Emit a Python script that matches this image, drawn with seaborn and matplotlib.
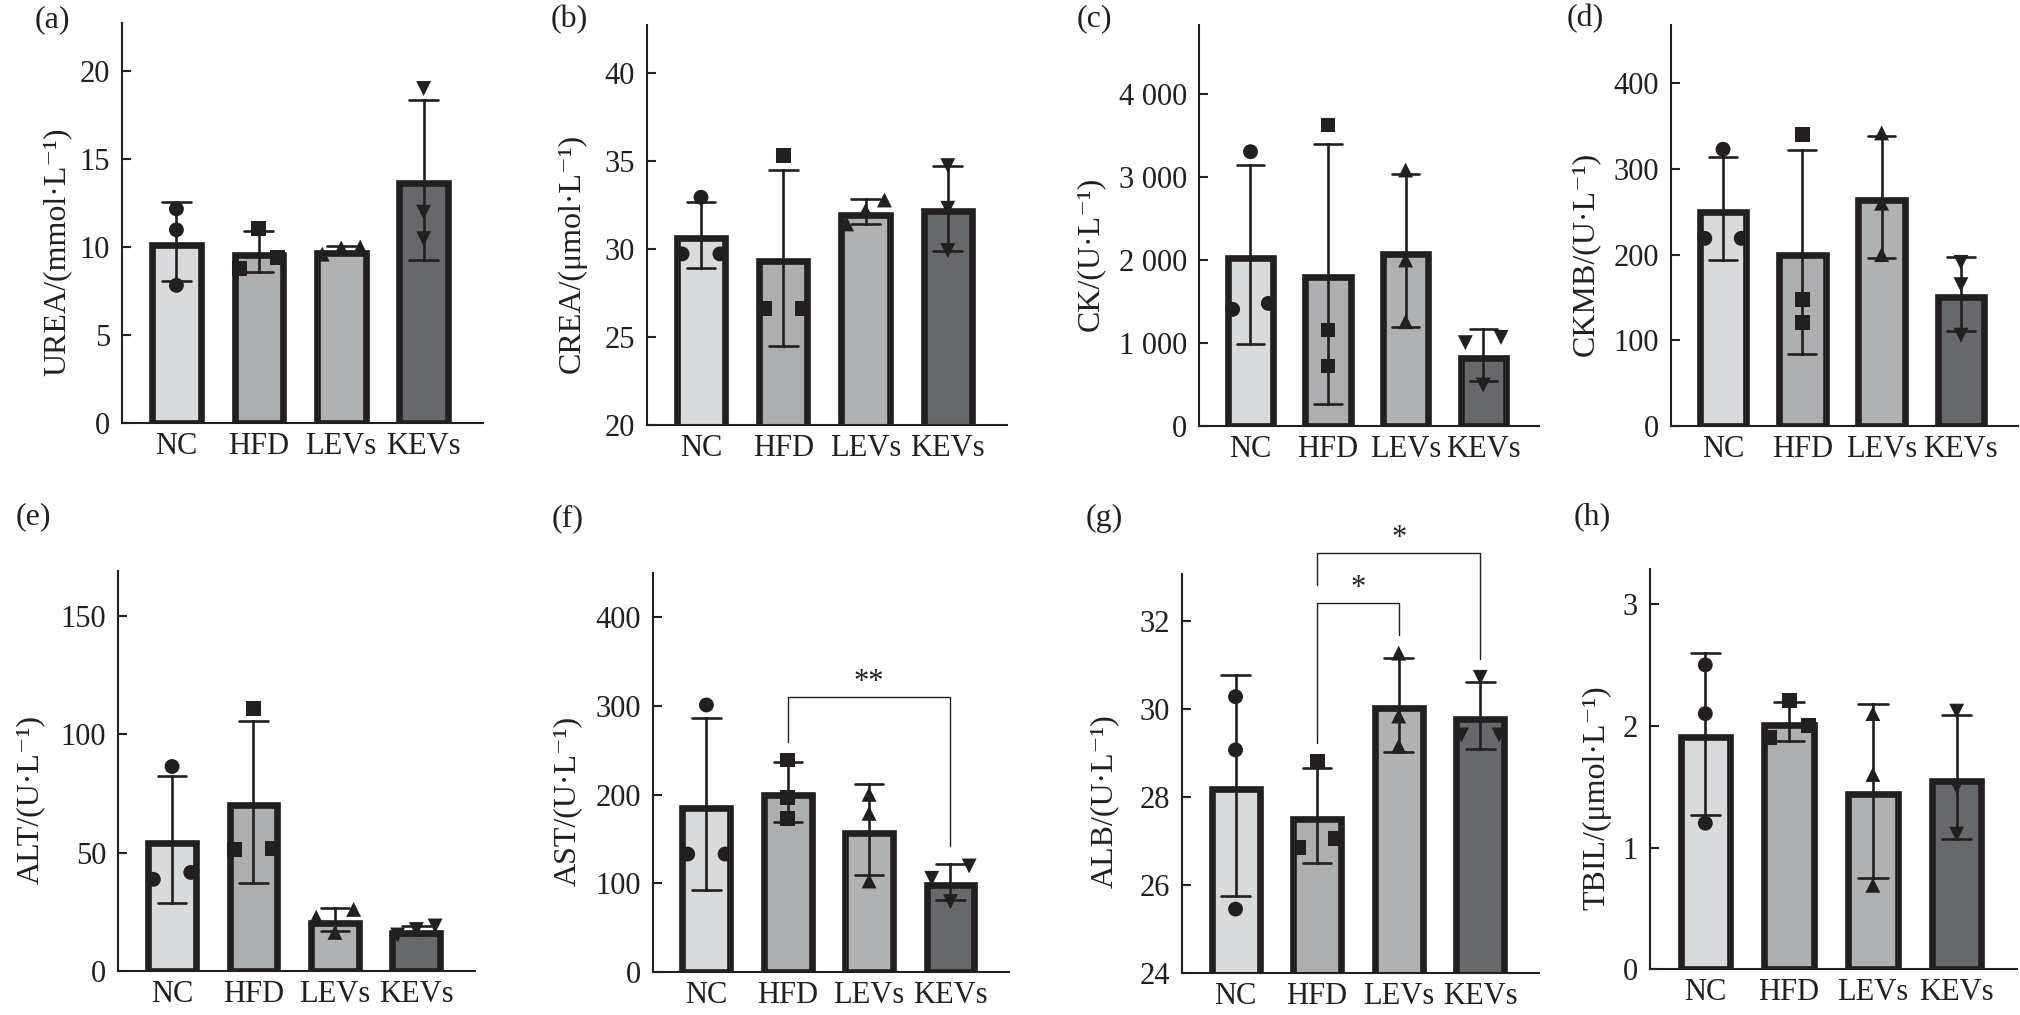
import numpy as np
import pandas as pd
import matplotlib
matplotlib.use("Agg")
import matplotlib.pyplot as plt
from matplotlib.ticker import FuncFormatter
import seaborn as sns

sns.set_theme(style="ticks")
plt.rcParams['font.family'] = ['Liberation Serif', 'DejaVu Serif']
plt.rcParams['axes.linewidth'] = 1.5

INK = "#231f20"
W, H = 2020, 1015
EDGE_LW = 4.8
XLIM = (-0.66, 3.72)

groups = ["NC", "HFD", "LEVs", "KEVs"]
fills = {"NC": "#d9dadc", "HFD": "#adaeb0", "LEVs": "#b0b1b3", "KEVs": "#67686b"}
markers = {"NC": "o", "HFD": "s", "LEVs": "^", "KEVs": "v"}

# individual values (3 animals per group)
urea = {"NC": [12.17, 10.98, 7.83], "HFD": [11.04, 9.43, 8.77],
        "LEVs": [10.0, 9.95, 9.6], "KEVs": [19.0, 11.98, 10.47]}
crea = {"NC": [32.92, 29.71, 29.71], "HFD": [35.27, 26.62, 26.62],
        "LEVs": [32.77, 32.17, 31.41], "KEVs": [34.72, 32.3, 29.9]}
ck = {"NC": [3308, 1479, 1407], "HFD": [3630, 1158, 724],
      "LEVs": [3087, 2002, 1258], "KEVs": [1069, 1005, 494]}
ckmb = {"NC": [323, 219, 219], "HFD": [340, 148, 121],
        "LEVs": [342, 260, 200], "KEVs": [191, 165, 106]}
alt = {"NC": [86.3, 41.6, 38.7], "HFD": [110.9, 51.8, 51.1],
       "LEVs": [26.0, 22.7, 16.3], "KEVs": [19.0, 17.5, 15.2]}
ast = {"NC": [300.7, 133, 133], "HFD": [238.8, 196.4, 173.2],
       "LEVs": [200.2, 178.8, 102.7], "KEVs": [119.6, 105.7, 79.5]}
alb = {"NC": [30.29, 29.08, 25.46], "HFD": [28.82, 27.07, 26.87],
       "LEVs": [31.28, 29.85, 29.17], "KEVs": [30.73, 29.42, 29.42]}
tbil = {"NC": [2.50, 2.10, 1.20], "HFD": [2.21, 2.00, 1.90],
        "LEVs": [2.10, 1.60, 0.69], "KEVs": [2.12, 1.50, 1.11]}

# significance brackets: (group1, group2, label, bracket level)
sig_ast = [("HFD", "KEVs", "**", 310)]
sig_alb = [("HFD", "LEVs", "*", 32.42), ("HFD", "KEVs", "*", 33.55)]

# letter, data, y label, ylim, yticks, axes box in px (x0, x1, ytop, ybot), label x, letter pos
panels = [
    ("(a)", urea, "UREA/(mmol·L⁻¹)", (0, 22.7), [0, 5, 10, 15, 20],
     (122, 483, 23.3, 423.3), -0.139, (35, 27), []),
    ("(b)", crea, "CREA/(μmol·L⁻¹)", (20, 42.7), [20, 25, 30, 35, 40],
     (646.7, 1007, 25, 425), -0.166, (551, 27), []),
    ("(c)", ck, "CK/(U·L⁻¹)", (0, 4836), [0, 1000, 2000, 3000, 4000],
     (1199.3, 1539, 25, 426), -0.277, (1077, 26), []),
    ("(d)", ckmb, "CKMB/(U·L⁻¹)", (0, 468), [0, 100, 200, 300, 400],
     (1670.7, 2018, 25, 426), -0.204, (1567, 26), []),
    ("(e)", alt, "ALT/(U·L⁻¹)", (0, 168.8), [0, 50, 100, 150],
     (118.3, 475, 571, 971), -0.205, (16, 524), []),
    ("(f)", ast, "AST/(U·L⁻¹)", (0, 449.5), [0, 100, 200, 300, 400],
     (652.7, 1009, 572.7, 972.3), -0.198, (552, 526), sig_ast),
    ("(g)", alb, "ALB/(U·L⁻¹)", (24, 33.08), [24, 26, 28, 30, 32],
     (1181.7, 1539, 574, 973.3), -0.176, (1086, 526), sig_alb),
    ("(h)", tbil, "TBIL/(μmol·L⁻¹)", (0, 3.285), [0, 1, 2, 3],
     (1650, 2017, 569.3, 969.3), -0.104, (1574, 524), []),
]


def spread(vals, yrange, thr=0.035, d=0.23):
    """GraphPad-like horizontal spread of points that nearly coincide."""
    vals = np.asarray(vals, dtype=float)
    order = np.argsort(vals)[::-1]
    clusters = [[order[0]]]
    for idx in order[1:]:
        if vals[clusters[-1][-1]] - vals[idx] <= thr * yrange:
            clusters[-1].append(idx)
        else:
            clusters.append([idx])
    offs = np.zeros(len(vals))
    for c in clusters:
        if len(c) > 1:
            c = sorted(c, key=lambda i: vals[i])
            offs[c] = np.linspace(-d, d, len(c))
    return offs


fig = plt.figure(figsize=(W / 100, H / 100), dpi=100)

for letter, data, ylabel, ylim, yticks, box, lab_x, lpos, sigs in panels:
    x0, x1, yt, yb = box
    ax = fig.add_axes([x0 / W, (H - yb) / H, (x1 - x0) / W, (yb - yt) / H])
    yrange = ylim[1] - ylim[0]

    rows = []
    for i, g in enumerate(groups):
        offs = spread(data[g], yrange)
        for v, o in zip(data[g], offs):
            rows.append((g, v, i + o))
    df = pd.DataFrame(rows, columns=["group", "value", "xpos"])

    sns.barplot(data=df, x="group", y="value", hue="group", order=groups,
                hue_order=groups, palette=fills, saturation=1, legend=False,
                errorbar="sd", capsize=0.35, width=0.67, linewidth=EDGE_LW,
                edgecolor=INK, err_kws={"color": INK, "linewidth": 1.9}, ax=ax)

    # draw the thick bar border inside the bar outline (as in GraphPad)
    half_px = EDGE_LW * 100 / 72 / 2
    dx = half_px * (XLIM[1] - XLIM[0]) / (x1 - x0)
    dy = half_px * yrange / (yb - yt)
    for p in ax.patches:
        p.set_x(p.get_x() + dx)
        p.set_width(p.get_width() - 2 * dx)
        p.set_height(p.get_height() - dy)

    sns.scatterplot(data=df, x="xpos", y="value", style="group",
                    style_order=groups, markers=markers, color=INK, s=115,
                    linewidth=0, legend=False, zorder=3, ax=ax)

    ax.set_xlim(*XLIM)
    ax.set_ylim(*ylim)
    ax.set_yticks(yticks)
    if ylim[1] > 1000:
        ax.yaxis.set_major_formatter(FuncFormatter(lambda v, p: f"{int(v):,}".replace(",", " ")))
    ax.set_xticks(range(len(groups)))
    ax.set_xticklabels(groups)
    ax.set_xlabel("")
    ax.set_ylabel(ylabel, fontsize=23, color=INK)
    ax.yaxis.set_label_coords(lab_x, 0.43)
    sns.despine(ax=ax)
    for s in ["left", "bottom"]:
        ax.spines[s].set_color(INK)
    ax.tick_params(axis="y", direction="in", length=6.7, width=1.5, pad=8.6,
                   labelsize=22, colors=INK)
    ax.tick_params(axis="x", length=0, pad=6.5, labelsize=22, colors=INK)

    # significance brackets
    stats = df.groupby("group")["value"].agg(["max", "mean", "std"])
    gap = 0.045 * yrange
    drawn = []
    for g1, g2, lab, yl in sigs:
        i1, i2 = groups.index(g1), groups.index(g2)
        ends = []
        for i, g in ((i1, g1), (i2, g2)):
            floor = max(stats.loc[g, "max"], stats.loc[g, "mean"] + stats.loc[g, "std"])
            for a, b, yd in drawn:
                if a <= i <= b:
                    floor = max(floor, yd)
            ends.append(floor + gap)
        ax.plot([i1, i1, i2, i2], [ends[0], yl, yl, ends[1]], color=INK,
                linewidth=1.0, clip_on=False, zorder=4)
        ax.text((i1 + i2) / 2, yl, lab, ha="center", va="bottom", fontsize=22,
                color=INK, clip_on=False)
        drawn.append((i1, i2, yl))

    fig.text(lpos[0] / W, 1 - lpos[1] / H, letter, fontsize=23, color=INK,
             ha="left", va="baseline")

fig.savefig("out.png", dpi=100)
